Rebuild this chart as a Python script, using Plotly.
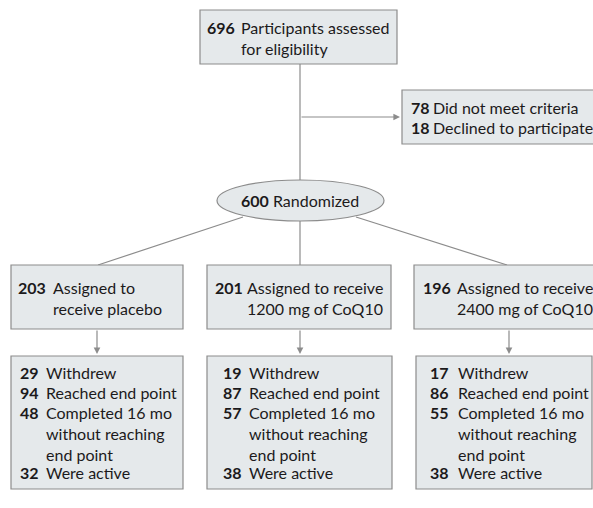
import plotly.graph_objects as go

# ---------------- data ----------------
screened_n = 696
screened_label = "Participants assessed<br>for eligibility"
excluded_n = [78, 18]
excluded_labels = ["Did not meet criteria", "Declined to participate"]
randomized_n = 600
randomized_label = "Randomized"
arm_n = [203, 201, 196]
arm_labels = ["Assigned to<br>receive placebo",
              "Assigned to receive<br>1200 mg of CoQ10",
              "Assigned to receive<br>2400 mg of CoQ10"]
withdrew = [29, 19, 17]
reached_end = [94, 87, 86]
completed_16mo = [48, 57, 55]
were_active = [32, 38, 38]
outcome_labels = ["Withdrew", "Reached end point",
                  "Completed 16 mo<br>without reaching<br>end point", "Were active"]

# ---------------- style ----------------
FONT = "Lato"
FS = 16
TXT = "#1c1a1b"
BOX_FILL = "#e5e9eb"
BOX_LINE = "#8c8c8c"
LINE = "#8c8c8c"

fig = go.Figure()
shapes = []
ann = []


def box(x0, y0, x1, y1):
    shapes.append(dict(type="rect", xref="x", yref="y", x0=x0, y0=y0, x1=x1, y1=y1,
                       fillcolor=BOX_FILL, line=dict(color=BOX_LINE, width=1.2), layer="below"))


def line(x0, y0, x1, y1):
    shapes.append(dict(type="line", xref="x", yref="y", x0=x0, y0=y0, x1=x1, y1=y1,
                       line=dict(color=LINE, width=1.2), layer="below"))


def arrow(x0, y0, x1, y1):
    ann.append(dict(x=x1, y=y1, ax=x0, ay=y0, xref="x", yref="y", axref="x", ayref="y",
                    text="", showarrow=True, arrowhead=2, arrowsize=1.1, arrowwidth=1.2,
                    arrowcolor=LINE, standoff=0))


def item(nx, tx, ytop, n, label):
    ann.append(dict(x=nx, y=ytop, xref="x", yref="y", xanchor="left", yanchor="top",
                    text=f"<b>{n}</b>", showarrow=False, align="left",
                    font=dict(family=FONT, size=FS, color=TXT)))
    ann.append(dict(x=tx, y=ytop, xref="x", yref="y", xanchor="left", yanchor="top",
                    text=label, showarrow=False, align="left",
                    font=dict(family=FONT, size=FS, color=TXT)))


# top box
box(200, 10, 397, 64)
item(205, 239, 16, screened_n, screened_label)

# connector & exclusion
line(300, 64, 300, 180)
arrow(300, 117, 400, 117)
box(402, 90, 610, 144)
for i, (n, lab) in enumerate(zip(excluded_n, excluded_labels)):
    item(409, 431, 96 + i * 20, n, lab)

# randomized ellipse
shapes.append(dict(type="circle", xref="x", yref="y", x0=217, y0=180, x1=384, y1=221,
                   fillcolor=BOX_FILL, line=dict(color=BOX_LINE, width=1.2), layer="below"))
ann.append(dict(x=300, y=200.5, xref="x", yref="y", xanchor="center", yanchor="middle",
                text=f"<b>{randomized_n}</b> {randomized_label}", showarrow=False,
                font=dict(family=FONT, size=FS, color=TXT)))

# arms
arm_box = [(11, 183), (207, 391), (414, 620)]
arm_num_x = [16, 213, 421]
arm_txt_x = [51, 245, 455]
arm_link = [(243, 217, 98), (300, 221, 300), (356, 217, 507)]
arm_mid = [97, 300, 509]
for i in range(3):
    x0, x1 = arm_box[i]
    sx, sy, ex = arm_link[i]
    line(sx, sy, ex, 265)
    box(x0, 265, x1, 329)
    item(arm_num_x[i], arm_txt_x[i], 276, arm_n[i], arm_labels[i])
    arrow(arm_mid[i], 329, arm_mid[i], 354)

# outcomes
out_box = [(11, 183), (207, 392), (416, 592)]
out_num_x = [18, 221, 428]
out_txt_x = [44, 247, 456]
for i in range(3):
    x0, x1 = out_box[i]
    box(x0, 356, x1, 489)
    vals = [withdrew[i], reached_end[i], completed_16mo[i], were_active[i]]
    ytop = 361
    for v, lab in zip(vals, outcome_labels):
        item(out_num_x[i], out_txt_x[i], ytop, v, lab)
        ytop += 20 * (lab.count("<br>") + 1)

fig.update_layout(
    width=593, height=508,
    margin=dict(l=0, r=0, t=0, b=0),
    paper_bgcolor="white", plot_bgcolor="white",
    xaxis=dict(range=[0, 593], visible=False, fixedrange=True),
    yaxis=dict(range=[508, 0], visible=False, fixedrange=True),
    shapes=shapes, annotations=ann, showlegend=False,
)
fig.write_html(
    "out.html",
    config={"displayModeBar": False, "staticPlot": True},
    post_script="document.body.style.margin='0';document.body.style.overflow='hidden';",
)
